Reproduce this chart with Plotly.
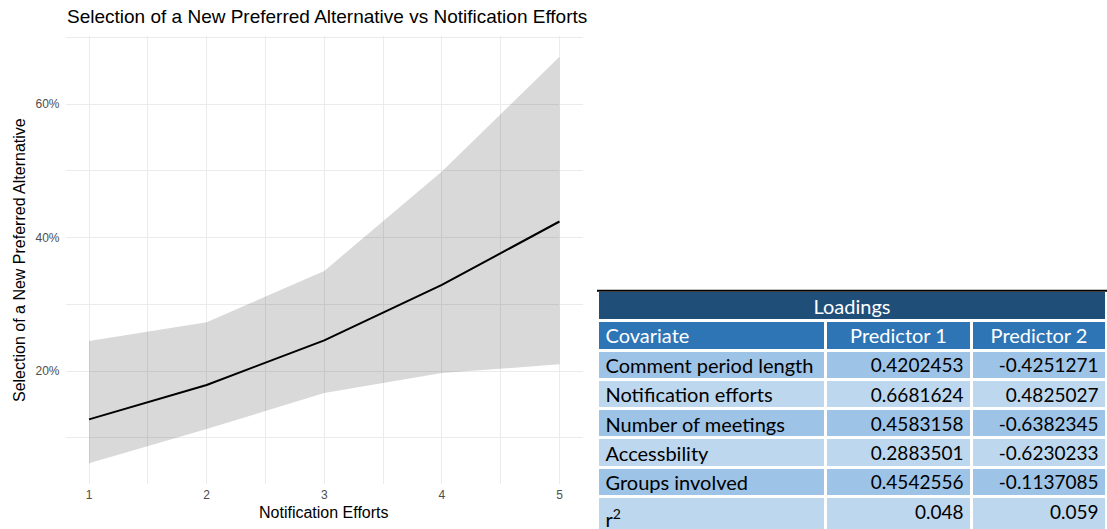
import plotly.graph_objects as go

# ---------------- data ----------------
notification_efforts = [1, 2, 3, 4, 5]
predicted = [0.1276, 0.179, 0.246, 0.329, 0.424]
ci_lower = [0.062, 0.113, 0.167, 0.197, 0.210]
ci_upper = [0.245, 0.273, 0.350, 0.499, 0.671]

y_tick_vals = [0.2, 0.4, 0.6]
y_tick_text = ["20%", "40%", "60%"]

table_title = "Loadings"
table_header = ["Covariate", "Predictor 1", "Predictor 2"]
covariates = ["Comment period length", "Notification efforts", "Number of meetings",
              "Accessbility", "Groups involved", "r<sup>2</sup>"]
predictor1 = ["0.4202453", "0.6681624", "0.4583158", "0.2883501", "0.4542556", "0.048"]
predictor2 = ["-0.4251271", "0.4825027", "-0.6382345", "-0.6230233", "-0.1137085", "0.059"]

# ---------------- layout helpers ----------------
W, H = 1107, 529
def px(x):
    return x / W
def py(y):
    return 1 - y / H

FONT = "Liberation Sans, Arial, sans-serif"
TFONT = "Lato, Carlito, Calibri, sans-serif"
GRID = "#ebebeb"

fig = go.Figure()

# ribbon
fig.add_trace(go.Scatter(x=notification_efforts, y=ci_lower, mode="lines",
                         line=dict(width=0, color="rgba(0,0,0,0)"),
                         showlegend=False, hoverinfo="skip"))
fig.add_trace(go.Scatter(x=notification_efforts, y=ci_upper, mode="lines",
                         line=dict(width=0, color="rgba(0,0,0,0)"),
                         fill="tonexty", fillcolor="rgba(0,0,0,0.15)",
                         showlegend=False, hoverinfo="skip"))
# line
fig.add_trace(go.Scatter(x=notification_efforts, y=predicted, mode="lines",
                         line=dict(width=2, color="black"), showlegend=False))

# ---------------- table ----------------
dark_row = "#9DC3E6"
light_row = "#BDD7EE"
row_colors = [dark_row if i % 2 == 0 else light_row for i in range(len(covariates))]
covariate_cells = [c.replace(" ", "\u00a0") for c in covariates]

fig.add_trace(go.Table(
    domain=dict(x=[px(597.5), 1.0], y=[py(320.5), py(290.5)]),
    columnwidth=[1],
    header=dict(values=[table_title], fill_color="#1F4E79",
                line=dict(color="white", width=3), align="center",
                font=dict(family=TFONT, size=20, color="white"), height=30),
    cells=dict(values=[[]], fill_color="white", line=dict(color="white", width=0)),
))

fig.add_trace(go.Table(
    domain=dict(x=[px(597.5), 1.0], y=[0.0, py(320)]),
    columnwidth=[228, 146, 135],
    header=dict(values=table_header, fill_color="#2E75B6",
                line=dict(color="white", width=3),
                align=["left", "center", "center"],
                font=dict(family=TFONT, size=20, color="white"), height=30),
    cells=dict(values=[covariate_cells, predictor1, predictor2],
               fill_color=[row_colors] * 3,
               line=dict(color="white", width=3),
               align=["left", "right", "right"],
               font=dict(family=TFONT, size=[20, 19, 19], color="black"), height=29.3),
))

fig.add_shape(type="line", xref="paper", yref="paper",
              x0=px(597), x1=1.0, y0=py(290.8), y1=py(290.8),
              line=dict(color="black", width=2))

fig.update_layout(
    width=W, height=H,
    margin=dict(l=0, r=0, t=0, b=0),
    paper_bgcolor="white", plot_bgcolor="white",
    font=dict(family=FONT, color="#4d4d4d"),
    showlegend=False,
    xaxis=dict(domain=[px(65.5), px(583)], range=[0.8, 5.2],
               tickvals=notification_efforts, ticks="",
               showgrid=True, gridcolor=GRID, gridwidth=1.1,
               minor=dict(showgrid=True, tickvals=[1.5, 2.5, 3.5, 4.5],
                          gridcolor=GRID, gridwidth=0.8),
               zeroline=False, showline=False, ticklabelstandoff=2,
               tickfont=dict(family=FONT, size=12, color="#4d4d4d")),
    yaxis=dict(domain=[py(483.5), py(36.2)], range=[0.0315, 0.7016],
               tickvals=y_tick_vals, ticktext=y_tick_text, ticks="",
               showgrid=True, gridcolor=GRID, gridwidth=1.1,
               minor=dict(showgrid=True, tickvals=[0.1, 0.3, 0.5, 0.7],
                          gridcolor=GRID, gridwidth=0.8),
               zeroline=False, showline=False, ticklabelstandoff=5,
               tickfont=dict(family=FONT, size=12, color="#4d4d4d")),
    annotations=[
        dict(text="Selection of a New Preferred Alternative vs Notification Efforts",
             xref="paper", yref="paper", x=px(65), y=py(17),
             xanchor="left", yanchor="middle", showarrow=False,
             font=dict(family=FONT, size=19, color="black")),
        dict(text="Notification Efforts", xref="paper", yref="paper",
             x=px(324), y=py(512), xanchor="center", yanchor="middle",
             showarrow=False, font=dict(family=FONT, size=16, color="black")),
        dict(text="Selection of a New Preferred Alternative", xref="paper", yref="paper",
             x=px(19), y=py(260), xanchor="center", yanchor="middle", textangle=-90,
             showarrow=False, font=dict(family=FONT, size=16, color="black")),
    ],
)

fig.write_html("out.html", config={"displayModeBar": False},
               post_script="document.body.style.margin='0';document.body.style.padding='0';")
